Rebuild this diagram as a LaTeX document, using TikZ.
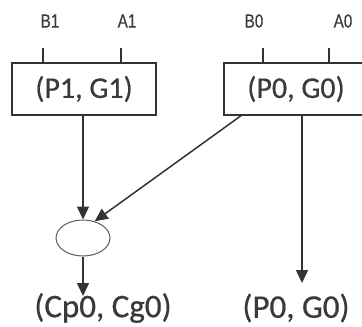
\documentclass[tikz,border=0pt]{standalone}
\usepackage{fontspec}
\setmainfont{Carlito}
\newfontfamily\heavy[UprightFeatures={FakeBold=0.6}]{Carlito}
\newfontfamily\labfont[UprightFeatures={FakeBold=0.3}]{Liberation Sans}
\newcommand{\narrowlab}[1]{\scalebox{0.8}[1]{#1}}
\usetikzlibrary{arrows.meta,shapes.geometric}
\definecolor{ink}{HTML}{333333}
\definecolor{txt}{HTML}{3A3A3A}
\tikzset{
  blk/.style={draw=ink, line width=1.5pt, minimum width=144pt, minimum height=52pt, inner sep=0pt,
    font=\heavy\fontsize{30}{32}\selectfont, text=txt},
  lab/.style={font=\labfont\fontsize{19}{21}\selectfont, text=txt, inner sep=0pt},
  outtxt/.style={font=\heavy\fontsize{33}{35}\selectfont, text=txt, inner sep=0pt},
  wire/.style={draw=ink, line width=1.5pt},
  arr/.style={draw=ink, line width=1.5pt, -{Triangle[width=12pt,length=13pt]}},
  merge/.style={draw=ink!80, line width=1pt, ellipse, minimum width=54pt, minimum height=36pt, inner sep=0pt}
}
\begin{document}
\begin{tikzpicture}[x=1pt,y=-1pt]
\clip (0,0) rectangle (362,327);
\fill[white] (0,0) rectangle (362,327);
% labels
\node[lab] (lb1) at (50,21) {\narrowlab{B1}};
\node[lab] (la1) at (127,21) {\narrowlab{A1}};
\node[lab] (lb0) at (254,21) {\narrowlab{B0}};
\node[lab] (la0) at (343,21) {\narrowlab{A0}};
% blocks
\node[blk] (pg1) at (84,89) {(P1, G1)};
\node[blk] (pg0) at (296,89) {(P0, G0)};
% input ticks
\coordinate (tb1) at (43,48);
\coordinate (ta1) at (121,48);
\coordinate (tb0) at (263,48);
\coordinate (ta0) at (329,48);
\draw[wire] (tb1) -- (tb1 |- pg1.north);
\draw[wire] (ta1) -- (ta1 |- pg1.north);
\draw[wire] (tb0) -- (tb0 |- pg0.north);
\draw[wire] (ta0) -- (ta0 |- pg0.north);
% merge
\node[merge] (el) at (83,238) {};
% outputs
\node[outtxt] (cout) at (103,308) {(Cp0, Cg0)};
\node[outtxt] (pout) at (296,308) {(P0, G0)};
% arrows
\draw[arr] (pg1.south -| el.north) -- (el.north);
\coordinate (d0) at (242,115);
\draw[arr] (d0) -- (el.55);
\draw[arr] (el.south) -- (83,296);
\coordinate (r0) at (302,115);
\draw[arr] (r0) -- (302,283);
\end{tikzpicture}
\end{document}
